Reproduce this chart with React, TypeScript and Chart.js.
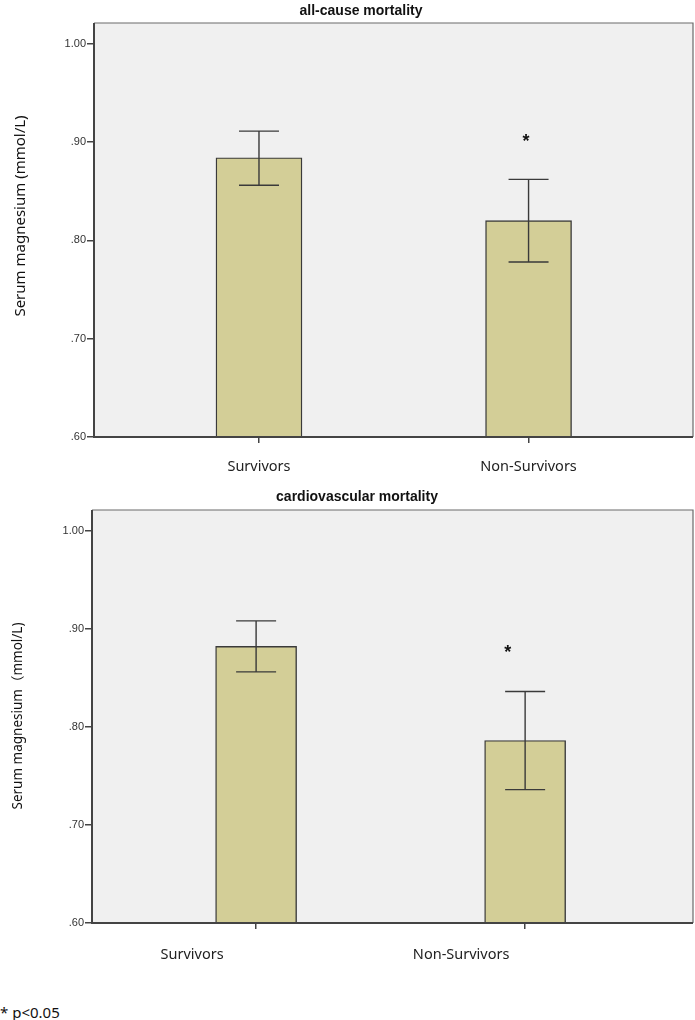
import React, { useEffect, useRef } from "react";
import { Chart, registerables } from "chart.js";

Chart.register(...registerables);

const categories = ["Survivors", "Non-Survivors"];
const allCauseMeans = [0.884, 0.82];
const allCauseLower = [0.856, 0.778];
const allCauseUpper = [0.911, 0.862];
const cvMeans = [0.882, 0.786];
const cvLower = [0.856, 0.736];
const cvUpper = [0.908, 0.836];
const yTickValues = [0.6, 0.7, 0.8, 0.9, 1.0];
const yTickLabels = [".60", ".70", ".80", ".90", "1.00"];
const starFlags = [false, true];

const BAR_COLOR = "#d3ce97";
const LINE_COLOR = "#3a3a3a";

const customPlugin = {
  id: "spssDecor",
  beforeDraw(chart: any) {
    const { ctx, chartArea } = chart;
    ctx.save();
    ctx.fillStyle = "#f0f0f0";
    ctx.fillRect(chartArea.left, chartArea.top, chartArea.right - chartArea.left, chartArea.bottom - chartArea.top);
    ctx.restore();
  },
  afterDatasetsDraw(chart: any, _args: any, opts: any) {
    const { ctx, chartArea, scales } = chart;
    const x = scales.x;
    const y = scales.y;
    ctx.save();
    // frame
    ctx.strokeStyle = "#6a6a6a";
    ctx.lineWidth = 1.2;
    ctx.beginPath();
    ctx.moveTo(chartArea.left, chartArea.top);
    ctx.lineTo(chartArea.right, chartArea.top);
    ctx.lineTo(chartArea.right, chartArea.bottom);
    ctx.stroke();
    ctx.strokeStyle = "#444";
    ctx.lineWidth = 2;
    ctx.beginPath();
    ctx.moveTo(chartArea.left, chartArea.top);
    ctx.lineTo(chartArea.left, chartArea.bottom);
    ctx.lineTo(chartArea.right, chartArea.bottom);
    ctx.stroke();
    // error bars
    ctx.strokeStyle = LINE_COLOR;
    ctx.lineWidth = 1.4;
    const lower: number[] = opts.lower;
    const upper: number[] = opts.upper;
    for (let i = 0; i < lower.length; i++) {
      const cx = x.getPixelForValue(i);
      const yl = y.getPixelForValue(lower[i]);
      const yu = y.getPixelForValue(upper[i]);
      ctx.beginPath();
      ctx.moveTo(cx, yl);
      ctx.lineTo(cx, yu);
      ctx.moveTo(cx - 20, yu);
      ctx.lineTo(cx + 20, yu);
      ctx.moveTo(cx - 20, yl);
      ctx.lineTo(cx + 20, yl);
      ctx.stroke();
      if (opts.stars[i]) {
        ctx.fillStyle = "#111";
        ctx.font = "bold 18px 'Liberation Sans', Arial, sans-serif";
        ctx.textAlign = "center";
        ctx.textBaseline = "middle";
        ctx.fillText("*", cx + opts.starDx, yu - opts.starDy);
      }
    }
    // title
    ctx.fillStyle = "#111";
    ctx.font = "bold 14px 'Liberation Sans', Arial, sans-serif";
    ctx.textAlign = "center";
    ctx.textBaseline = "middle";
    ctx.fillText(opts.title, opts.titleX, opts.titleY);
    // y axis title
    ctx.save();
    ctx.translate(opts.yTitleX, opts.yTitleY);
    ctx.rotate(-Math.PI / 2);
    ctx.font = opts.yTitleFont;
    ctx.fillStyle = "#111";
    ctx.fillText(opts.yTitle, 0, 0);
    ctx.restore();
    ctx.restore();
  },
};

interface PanelProps {
  means: number[];
  lower: number[];
  upper: number[];
  height: number;
  padTop: number;
  axisW: number;
  axisH: number;
  barW: number;
  xMin: number;
  xMax: number;
  labelOffset: number;
  labelPad: number;
  title: string;
  titleX: number;
  titleY: number;
  yTitle: string;
  yTitleX: number;
  yTitleY: number;
  yTitleFont: string;
  starDx: number;
  starDy: number;
}

function Panel(p: PanelProps) {
  const ref = useRef<HTMLCanvasElement | null>(null);
  useEffect(() => {
    if (!ref.current) return;
    const chart = new Chart(ref.current, {
      type: "bar",
      data: {
        datasets: [
          {
            data: p.means.map((v, i) => ({ x: i, y: v })),
            backgroundColor: BAR_COLOR,
            borderColor: LINE_COLOR,
            borderWidth: 1.4,
            barThickness: p.barW,
            borderSkipped: false,
          } as any,
        ],
      },
      options: {
        responsive: false,
        animation: false,
        layout: { padding: { top: p.padTop, right: 2, left: 0, bottom: 0 } },
        plugins: {
          legend: { display: false },
          tooltip: { enabled: false },
          title: { display: false },
          spssDecor: {
            lower: p.lower,
            upper: p.upper,
            stars: starFlags,
            starDx: p.starDx,
            starDy: p.starDy,
            title: p.title,
            titleX: p.titleX,
            titleY: p.titleY,
            yTitle: p.yTitle,
            yTitleX: p.yTitleX,
            yTitleY: p.yTitleY,
            yTitleFont: p.yTitleFont,
          },
        } as any,
        scales: {
          x: {
            type: "linear",
            min: p.xMin,
            max: p.xMax,
            offset: false,
            afterBuildTicks: (s: any) => {
              s.ticks = categories.map((_, i) => ({ value: i }));
            },
            afterFit: (s: any) => {
              s.height = p.axisH;
            },
            ticks: {
              autoSkip: false,
              maxRotation: 0,
              padding: p.labelPad,
              labelOffset: p.labelOffset,
              color: "#222",
              font: { family: "'Noto Sans', sans-serif", size: 14.5 },
              callback: (v: any) => categories[Number(v)] ?? "",
            },
            grid: { drawOnChartArea: false, offset: false, tickLength: 6, color: "#444", lineWidth: 1.5 },
            border: { display: false },
          },
          y: {
            type: "linear",
            min: 0.6,
            max: 1.021,
            afterBuildTicks: (s: any) => {
              s.ticks = yTickValues.map((v) => ({ value: v }));
            },
            afterFit: (s: any) => {
              s.width = p.axisW;
            },
            ticks: {
              padding: 1,
              color: "#333",
              font: { family: "'Liberation Sans', Arial, sans-serif", size: 11 },
              callback: (v: any) => {
                const idx = yTickValues.findIndex((t) => Math.abs(t - Number(v)) < 1e-6);
                return idx >= 0 ? yTickLabels[idx] : "";
              },
            },
            grid: { drawOnChartArea: false, tickLength: 7, color: "#444", lineWidth: 1.5 },
            border: { display: false },
          },
        },
      },
      plugins: [customPlugin],
    });
    return () => chart.destroy();
  }, []);
  return <canvas ref={ref} width={695} height={p.height} style={{ display: "block", width: 695, height: p.height }} />;
}

export default function App() {
  useEffect(() => {
    document.body.style.margin = "0";
  }, []);
  return (
    <div style={{ position: "relative", width: 695, height: 1020, background: "#fff" }}>
      <Panel
        means={allCauseMeans}
        lower={allCauseLower}
        upper={allCauseUpper}
        height={480}
        padTop={23}
        axisW={94}
        axisH={480 - 437}
        barW={86}
        xMin={-0.612}
        xMax={1.61}
        labelOffset={0}
        labelPad={15}
        title="all-cause mortality"
        titleX={361}
        titleY={11}
        yTitle="Serum magnesium (mmol/L)"
        yTitleX={21}
        yTitleY={216}
        yTitleFont="15px 'Noto Sans', sans-serif"
        starDx={-2.5}
        starDy={37}
      />
      <Panel
        means={cvMeans}
        lower={cvLower}
        upper={cvUpper}
        height={500}
        padTop={30}
        axisW={92}
        axisH={500 - 443}
        barW={81}
        xMin={-0.61}
        xMax={1.624}
        labelOffset={-64}
        labelPad={17}
        title="cardiovascular mortality"
        titleX={357}
        titleY={17}
        yTitle="Serum magnesium（mmol/L)"
        yTitleX={18}
        yTitleY={236}
        yTitleFont="13.5px 'Noto Sans', 'Noto Sans CJK SC', sans-serif"
        starDx={-17.5}
        starDy={38}
      />
      <div
        style={{
          position: "absolute",
          left: 0,
          top: 1001,
          fontFamily: "'Noto Sans', sans-serif",
          fontSize: 15,
          lineHeight: "22px",
          color: "#111",
        }}
      >
        * p&lt;0.05
      </div>
    </div>
  );
}
